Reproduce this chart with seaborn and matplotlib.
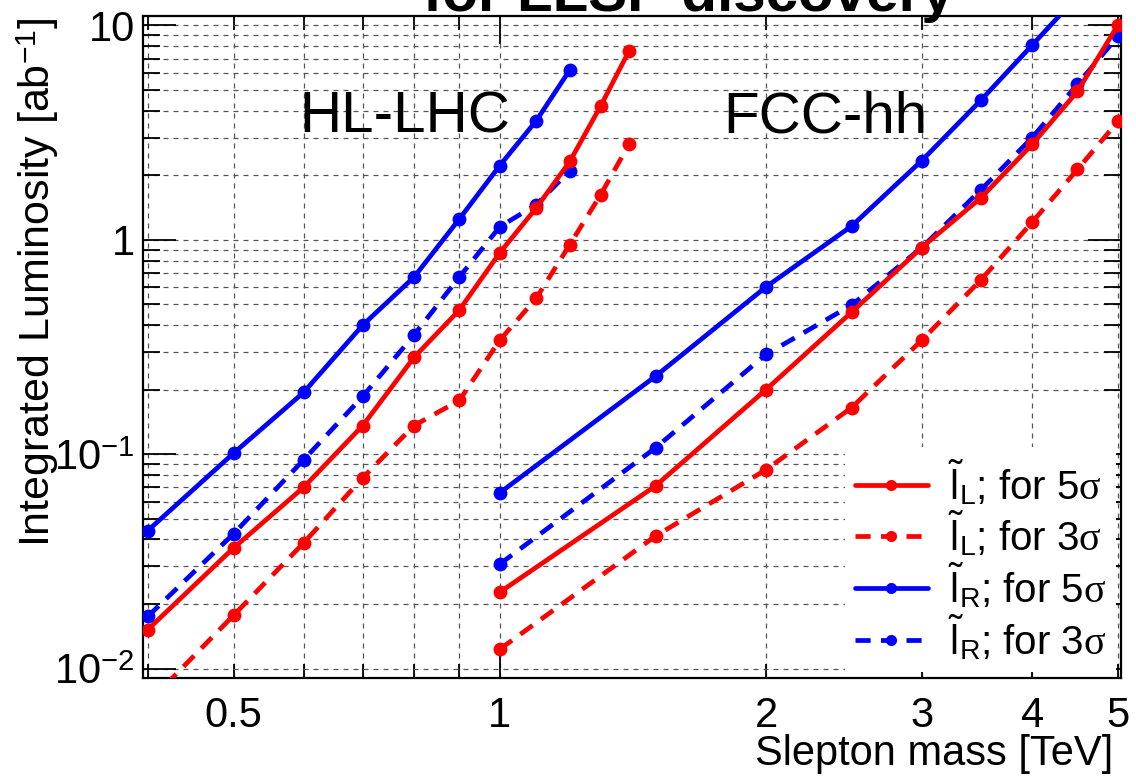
import numpy as np
import pandas as pd
import matplotlib
matplotlib.use("Agg")
import matplotlib.pyplot as plt
import seaborn as sns
from matplotlib.lines import Line2D

sns.set_style("ticks")
plt.rcParams['font.family'] = ['Liberation Sans', 'DejaVu Sans']
plt.rcParams['mathtext.fontset'] = 'custom'
plt.rcParams['mathtext.rm'] = 'Liberation Sans'
plt.rcParams['mathtext.it'] = 'Liberation Serif'
plt.rcParams['mathtext.bf'] = 'Liberation Sans:bold'
plt.rcParams['text.color'] = 'black'

# ---------------- data ----------------
hl_mass = [0.4, 0.5, 0.6, 0.7, 0.8, 0.9, 1.0, 1.1, 1.2]
hl_mass_L = [0.4, 0.5, 0.6, 0.7, 0.8, 0.9, 1.0, 1.1, 1.2, 1.3, 1.4]
hl_R5 = [0.044, 0.101, 0.194, 0.40, 0.67, 1.25, 2.22, 3.6, 6.2]
hl_R3 = [0.0175, 0.0425, 0.094, 0.186, 0.36, 0.67, 1.15, 1.46, 2.1]
hl_L5 = [0.0152, 0.0365, 0.070, 0.136, 0.283, 0.47, 0.87, 1.41, 2.32, 4.2, 7.6]
hl_L3 = [0.0069, 0.0177, 0.0385, 0.0776, 0.136, 0.178, 0.34, 0.535, 0.95, 1.62, 2.79]

fcc_mass = [1.0, 1.5, 2.0, 2.5, 3.0, 3.5, 4.0, 4.5, 5.0]
fcc_R5 = [0.066, 0.231, 0.603, 1.16, 2.34, 4.48, 8.1, 13.7, 22.0]
fcc_R3 = [0.0307, 0.107, 0.292, 0.496, 0.92, 1.71, 3.0, 5.32, 8.9]
fcc_L5 = [0.0227, 0.0711, 0.200, 0.46, 0.92, 1.57, 2.79, 4.93, 10.05]
fcc_L3 = [0.0123, 0.0415, 0.0846, 0.165, 0.34, 0.65, 1.21, 2.13, 3.57]

x_ticks = [0.5, 1, 2, 3, 4, 5]
x_ticklabels = ["0.5", "1", "2", "3", "4", "5"]
y_ticks = [0.01, 0.1, 1, 10]
y_ticklabels = ["10$^{-2}$", "10$^{-1}$", "1", "10"]

legend_labels = [r"$\tilde{\mathrm{l}}_{\mathrm{L}}$; for 5$\sigma$",
                 r"$\tilde{\mathrm{l}}_{\mathrm{L}}$; for 3$\sigma$",
                 r"$\tilde{\mathrm{l}}_{\mathrm{R}}$; for 5$\sigma$",
                 r"$\tilde{\mathrm{l}}_{\mathrm{R}}$; for 3$\sigma$"]

RED = "#ff0000"
BLUE = "#0000ff"

# ---------------- figure ----------------
fig = plt.figure(figsize=(11.36, 7.77), dpi=100)
L, R, B, T = 143 / 1136, 1121 / 1136, 1 - 678 / 777, 1 - 16 / 777
ax = fig.add_axes([L, B, R - L, T - B])
ax.set_xscale("log")
ax.set_yscale("log")

LW = 3.4
MS = 10
DASH = (3.2, 2.2)

series = [
    (hl_mass, hl_R3, BLUE, True),
    (hl_mass, hl_R5, BLUE, False),
    (fcc_mass, fcc_R3, BLUE, True),
    (fcc_mass, fcc_R5, BLUE, False),
    (hl_mass_L, hl_L3, RED, True),
    (hl_mass_L, hl_L5, RED, False),
    (fcc_mass, fcc_L3, RED, True),
    (fcc_mass, fcc_L5, RED, False),
]
for xs, ys, col, dashed in series:
    df = pd.DataFrame({"m": xs, "lumi": ys})
    sns.lineplot(data=df, x="m", y="lumi", ax=ax, color=col, lw=LW,
                 marker="o", markersize=MS, markeredgewidth=0,
                 markeredgecolor=col, zorder=3, clip_on=True)
    line = ax.get_lines()[-1]
    if dashed:
        line.set_dashes(DASH)

# ticks
ax.set_xticks(x_ticks)
ax.set_xticklabels(x_ticklabels)
ax.set_xticks([0.4, 0.6, 0.7, 0.8, 0.9], minor=True)
ax.xaxis.set_minor_formatter(matplotlib.ticker.NullFormatter())
ax.set_yticks(y_ticks)
ax.set_yticklabels(y_ticklabels)
yminor = [k * 10.0 ** e for e in range(-3, 2) for k in range(2, 10)]
ax.set_yticks(yminor, minor=True)
ax.yaxis.set_minor_formatter(matplotlib.ticker.NullFormatter())

ax.set_xlim(0.395, 5.04)
ax.set_ylim(0.00903, 11.07)

ax.tick_params(axis="both", which="both", direction="in", top=True,
               right=True, width=1.3, color="black", labelcolor="black")
ax.tick_params(axis="x", which="both", length=10, labelsize=30, pad=13)
ax.tick_params(axis="y", which="major", length=24, labelsize=30, pad=6)
ax.tick_params(axis="y", which="minor", length=12)
# longer tick at 1 TeV, as in the original
for t in ax.xaxis.get_major_ticks():
    if abs(t.get_loc() - 1) < 1e-9:
        t.tick1line.set_markersize(20)
        t.tick2line.set_markersize(20)

ax.grid(True, which="both", color="#555555", lw=0.9, ls=(0, (4, 4)))
ax.set_axisbelow(True)
for s in ax.spines.values():
    s.set_linewidth(1.6)
    s.set_color("black")

ax.set_xlabel("")
ax.set_ylabel("")

# texts
ax.text(0.268, 0.846, "HL-LHC", transform=ax.transAxes, ha="center",
        va="center", fontsize=42, zorder=5)
ax.text(0.698, 0.846, "FCC-hh", transform=ax.transAxes, ha="center",
        va="center", fontsize=42, zorder=5)
fig.text(688 / 1136, 1 - 11 / 777, "for LLSP discovery", ha="center",
         va="baseline", fontsize=42, fontweight="bold")
fig.text(38 / 1136, 1 - 282 / 777, "Integrated Luminosity [ab$^{-1}$]",
         rotation=90, ha="center", va="center", fontsize=31)
fig.text(1113 / 1136, 1 - 754 / 777, "Slepton mass [TeV]", ha="right",
         va="center", fontsize=30)

# legend
handles = [
    Line2D([], [], color=RED, lw=LW, marker="o", markersize=8, markeredgewidth=0),
    Line2D([], [], color=RED, lw=LW, marker="o", markersize=8, markeredgewidth=0, dashes=DASH),
    Line2D([], [], color=BLUE, lw=LW, marker="o", markersize=8, markeredgewidth=0),
    Line2D([], [], color=BLUE, lw=LW, marker="o", markersize=8, markeredgewidth=0, dashes=DASH),
]
leg = ax.legend(handles, legend_labels, loc="upper left",
                bbox_to_anchor=((845 - 143) / 978, (678 - 447) / 662),
                fontsize=29, frameon=True, fancybox=False, framealpha=1,
                facecolor="white", edgecolor="none", handlelength=1.8,
                handletextpad=0.5, labelspacing=0.05, borderpad=0.25,
                borderaxespad=0)
leg.set_zorder(6)

fig.savefig("out.png", dpi=100)
